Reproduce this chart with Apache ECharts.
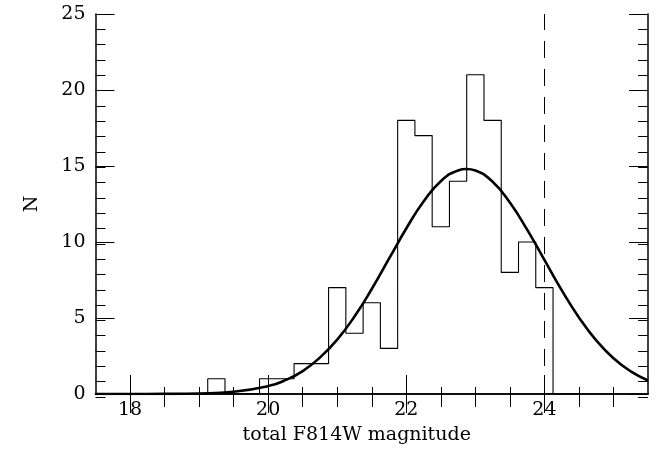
<!DOCTYPE html>
<html>
<head>
<meta charset="utf-8">
<script src="https://cdn.jsdelivr.net/npm/echarts@6/dist/echarts.min.js"></script>
<style>html,body{margin:0;padding:0;background:#fff}#c{width:660px;height:450px}</style>
</head>
<body>
<div id="c"></div>
<script>
// Histogram bins (centres, width 0.25 mag) and counts
const binCenters = [18.75, 19.0, 19.25, 19.5, 19.75, 20.0, 20.25, 20.5, 20.75, 21.0, 21.25, 21.5, 21.75, 22.0, 22.25, 22.5, 22.75, 23.0, 23.25, 23.5, 23.75, 24.0, 24.25, 24.5];
const counts     = [0, 0, 1, 0, 0, 1, 1, 2, 2, 7, 4, 6, 3, 18, 17, 11, 14, 21, 18, 8, 10, 7, 0, 0];
// Fitted curve
const curveX = [17.5, 18.0, 18.5, 19.0, 19.5, 20.0, 20.25, 20.5, 20.75, 21.0, 21.25, 21.5, 21.75, 22.0, 22.25, 22.5, 22.75, 22.87, 23.0, 23.25, 23.5, 23.75, 24.0, 24.25, 24.5, 24.75, 25.0, 25.25, 25.5];
const curveY = [0.0, 0.001, 0.006, 0.034, 0.15, 0.52, 0.91, 1.51, 2.40, 3.58, 5.10, 6.91, 8.90, 10.89, 12.66, 14.00, 14.71, 14.8, 14.70, 13.96, 12.60, 10.81, 8.82, 6.83, 5.04, 3.53, 2.35, 1.49, 0.89];
// Limit line
const limitMag = 24;
// Axis ticks
const xMajor = [18, 20, 22, 24];
const xMinor = [18.5, 19, 19.5, 20.5, 21, 21.5, 22.5, 23, 23.5, 24.5, 25];
const xName = 'total F814W magnitude';
const yName = 'N';

const font = 'DejaVu Serif';
const grid = {left: 95.5, right: 12, top: 14, bottom: 53};
const chart = echarts.init(document.getElementById('c'), null, {renderer: 'canvas'});

function xAx(gi, pos, ticks, len, labels, line) {
  return {
    type: 'value', gridIndex: gi, position: pos, min: 17.5, max: 25.5,
    axisLine: {show: line, lineStyle: {color: '#000', width: 1.5}},
    axisTick: {show: true, inside: true, length: len, customValues: ticks, lineStyle: {color: '#000', width: 1}},
    axisLabel: labels ? {show: true, customValues: ticks, color: '#000', fontFamily: font, fontSize: 19, margin: 7} : {show: false},
    splitLine: {show: false},
    name: labels ? xName : '', nameLocation: 'middle', nameGap: 32,
    nameTextStyle: {color: '#000', fontFamily: font, fontSize: 19, padding: [0, 30, 0, 0]}
  };
}
function yAx(gi, pos, interval, len, labels, line) {
  return {
    type: 'value', gridIndex: gi, position: pos, min: 0, max: 25, interval: interval,
    axisLine: {show: line, lineStyle: {color: '#000', width: 1.5}},
    axisTick: {show: true, inside: true, length: len, lineStyle: {color: '#000', width: 1}},
    axisLabel: labels ? {show: true, color: '#000', fontFamily: font, fontSize: 19, margin: 10} : {show: false},
    splitLine: {show: false},
    name: labels ? yName : '', nameLocation: 'middle', nameGap: 54, nameRotate: 90,
    nameTextStyle: {color: '#000', fontFamily: font, fontSize: 19}
  };
}

const option = {
  backgroundColor: '#fff',
  animation: false,
  grid: [Object.assign({}, grid), Object.assign({}, grid)],
  xAxis: [
    xAx(0, 'bottom', xMajor, 19, true, true),
    xAx(0, 'top', xMajor, 19, false, true),
    xAx(1, 'bottom', xMinor, 10, false, false),
    xAx(1, 'top', xMinor, 10, false, false)
  ],
  yAxis: [
    yAx(0, 'left', 5, 19, true, true),
    yAx(0, 'right', 5, 19, false, true),
    yAx(1, 'left', 1, 10, false, false),
    yAx(1, 'right', 1, 10, false, false)
  ],
  series: [
    {
      type: 'line', xAxisIndex: 0, yAxisIndex: 0, step: 'middle', symbol: 'none',
      data: binCenters.map((c, i) => [c, counts[i]]),
      lineStyle: {color: '#000', width: 1.1},
      markLine: {
        silent: true, symbol: ['none', 'none'], label: {show: false},
        lineStyle: {color: '#000', width: 1, type: [17, 11]},
        data: [{xAxis: limitMag}]
      },
      z: 3
    },
    {
      type: 'line', xAxisIndex: 0, yAxisIndex: 0, smooth: true, symbol: 'none',
      data: curveX.map((x, i) => [x, curveY[i]]),
      lineStyle: {color: '#000', width: 2.6},
      z: 4
    }
  ]
};
chart.setOption(option);
</script>
</body>
</html>
